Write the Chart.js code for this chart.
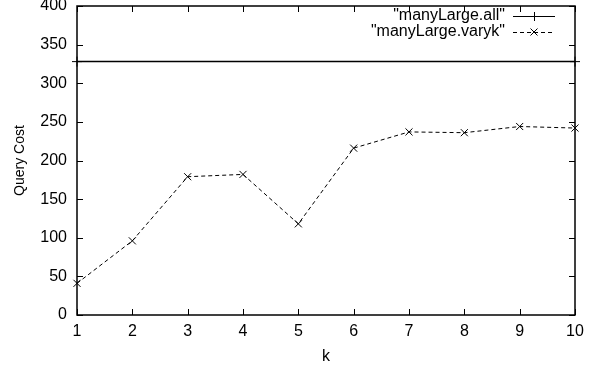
<!DOCTYPE html>
<html>
<head>
<meta charset="utf-8">
<script src="https://cdn.jsdelivr.net/npm/chart.js@4.4.1/dist/chart.umd.min.js"></script>
<style>
  html, body { margin: 0; padding: 0; background: #fff; }
  #wrap { width: 595px; height: 366px; }
</style>
</head>
<body>
<div id="wrap"><canvas id="costChart"></canvas></div>
<script>
// data
var kValues = [1, 2, 3, 4, 5, 6, 7, 8, 9, 10];
var varykCost = [41, 96, 179, 182, 118, 216, 237, 236, 244, 242];
var allK = [1, 10];
var allCost = [328, 328];
var yTicks = [0, 50, 100, 150, 200, 250, 300, 350, 400];

var seriesNames = ['"manyLarge.all"', '"manyLarge.varyk"'];

var FONT = 'Liberation Sans, Arial, Helvetica, sans-serif';

// gnuplot look: box, inward ticks on all sides, key top right
var gnuplotFrame = {
    id: 'gnuplotFrame',
    afterDraw: function (chart) {
        var c = chart.ctx, a = chart.chartArea;
        var xs = chart.scales.x, ys = chart.scales.y;
        c.save();
        c.strokeStyle = '#000';
        c.lineWidth = 1.5;
        c.strokeRect(a.left, a.top, a.right - a.left, a.bottom - a.top);
        c.lineWidth = 1;
        c.beginPath();
        kValues.forEach(function (k) {
            var px = Math.round(xs.getPixelForValue(k)) + 0.5;
            c.moveTo(px, a.bottom); c.lineTo(px, a.bottom - 6);
            c.moveTo(px, a.top); c.lineTo(px, a.top + 6);
        });
        yTicks.forEach(function (v) {
            var py = Math.round(ys.getPixelForValue(v)) + 0.5;
            c.moveTo(a.left, py); c.lineTo(a.left + 6, py);
            c.moveTo(a.right, py); c.lineTo(a.right - 6, py);
        });
        c.stroke();

        // key
        c.font = '16px ' + FONT;
        c.fillStyle = '#000';
        c.textAlign = 'right';
        c.textBaseline = 'middle';
        var textRight = a.right - 70, x0 = a.right - 62, x1 = a.right - 20;
        var rows = [a.top + 10, a.top + 26];
        c.fillText(seriesNames[0], textRight, rows[0]);
        c.fillText(seriesNames[1], textRight, rows[1]);
        c.lineWidth = 1;
        c.beginPath();
        c.moveTo(x0, rows[0] + 0.5); c.lineTo(x1, rows[0] + 0.5);
        var mx = (x0 + x1) / 2;
        c.moveTo(mx + 0.5, rows[0] - 4); c.lineTo(mx + 0.5, rows[0] + 5);
        c.stroke();
        c.setLineDash([4, 3]);
        c.beginPath();
        c.moveTo(x0, rows[1] + 0.5); c.lineTo(x1, rows[1] + 0.5);
        c.stroke();
        c.setLineDash([]);
        c.beginPath();
        c.moveTo(mx - 3.5, rows[1] - 3.5); c.lineTo(mx + 3.5, rows[1] + 3.5);
        c.moveTo(mx + 3.5, rows[1] - 3.5); c.lineTo(mx - 3.5, rows[1] + 3.5);
        c.stroke();
        c.restore();
    }
};

var ctx = document.getElementById('costChart').getContext('2d');
var costChart = new Chart(ctx, {
    type: 'line',
    data: {
        datasets: [{
            label: seriesNames[0],
            data: allK.map(function (k, i) { return { x: k, y: allCost[i] }; }),
            borderColor: '#000',
            borderWidth: 1.5,
            pointStyle: 'cross',
            pointRadius: 5,
            pointBorderColor: '#000',
            pointBorderWidth: 1,
            fill: false,
            clip: false
        }, {
            label: seriesNames[1],
            data: kValues.map(function (k, i) { return { x: k, y: varykCost[i] }; }),
            borderColor: '#000',
            borderWidth: 1,
            borderDash: [4, 3],
            pointStyle: 'crossRot',
            pointRadius: 5,
            pointBorderColor: '#000',
            pointBorderWidth: 1,
            fill: false,
            clip: false
        }]
    },
    options: {
        responsive: true,
        maintainAspectRatio: false,
        animation: false,
        layout: { padding: { top: 6, right: 20, left: 0, bottom: 0 } },
        scales: {
            x: {
                type: 'linear',
                min: 1,
                max: 10,
                afterBuildTicks: function (s) { s.ticks = kValues.map(function (v) { return { value: v }; }); },
                afterFit: function (s) { s.height = 51; },
                grid: { display: false, drawTicks: false },
                border: { display: false },
                ticks: { color: '#000', font: { family: FONT, size: 16 }, padding: 7, maxRotation: 0 },
                title: { display: true, text: 'k', color: '#000', font: { family: FONT, size: 16 }, padding: { top: 3, bottom: 0 } }
            },
            y: {
                min: 0,
                max: 400,
                afterBuildTicks: function (s) { s.ticks = yTicks.map(function (v) { return { value: v }; }); },
                afterFit: function (s) { s.width = 77; s.paddingTop = 0; s.paddingBottom = 0; },
                grid: { display: false, drawTicks: false },
                border: { display: false },
                ticks: { color: '#000', font: { family: FONT, size: 16 }, padding: 10 },
                title: { display: true, text: 'Query Cost', color: '#000', font: { family: FONT, size: 14 }, padding: { top: 12, bottom: 4 } }
            }
        },
        plugins: {
            legend: { display: false },
            tooltip: { enabled: false }
        }
    },
    plugins: [gnuplotFrame]
});
</script>
</body>
</html>
